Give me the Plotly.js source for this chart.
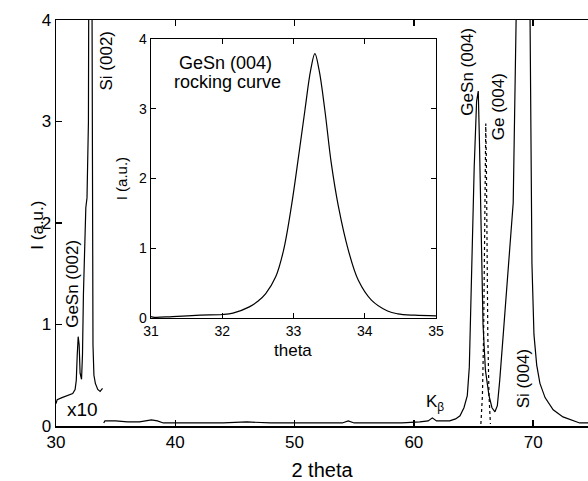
<!DOCTYPE html>
<html>
<head>
<meta charset="utf-8">
<script src="https://cdn.plot.ly/plotly-3.0.1.min.js"></script>
<style>html,body{margin:0;padding:0;background:#fff;}#chart{width:588px;height:481px;}</style>
</head>
<body>
<div id="chart"></div>
<script>
// Low-angle scan (shown x10)
var lowX = [30.0, 30.1, 30.5, 31.0, 31.4, 31.6, 31.7, 31.78, 31.86, 31.94, 32.02, 32.14, 32.22, 32.3, 32.42, 32.5, 32.6, 32.66, 32.72, 32.76, 32.86, 32.96, 33.0, 33.04, 33.1, 33.18, 33.3, 33.5, 33.7, 33.9];
var lowY = [0.22, 0.26, 0.28, 0.30, 0.32, 0.36, 0.45, 0.70, 0.88, 0.80, 0.52, 0.46, 0.70, 1.30, 1.93, 2.15, 2.25, 2.5, 3.0, 5, 8, 8, 5, 2.5, 0.8, 0.5, 0.42, 0.36, 0.34, 0.37];
// Main scan
var mainX = [34.0, 34.1, 35, 36, 37, 37.5, 38, 38.5, 39, 40, 42, 44, 46, 48, 50, 52, 54, 54.5, 55, 57, 59, 60.5, 61.2, 61.55, 61.9, 62.3, 63, 63.5, 63.87, 64.2, 64.48, 64.65, 64.84, 65.06, 65.26, 65.4, 65.5, 65.65, 65.8, 66.0, 66.3, 66.55, 66.8, 67.0, 67.2, 67.5, 67.9, 68.33, 68.6, 68.9, 69.4, 69.73, 69.9, 70.07, 70.3, 70.57, 71.0, 71.68, 72.5, 73.9, 74.6];
var mainY = [0.03, 0.05, 0.05, 0.04, 0.04, 0.05, 0.06, 0.05, 0.03, 0.03, 0.03, 0.03, 0.04, 0.03, 0.03, 0.03, 0.03, 0.05, 0.03, 0.03, 0.03, 0.04, 0.05, 0.08, 0.05, 0.05, 0.05, 0.07, 0.10, 0.18, 0.30, 0.58, 1.57, 2.55, 3.2, 3.30, 2.8, 1.8, 1.0, 0.55, 0.30, 0.18, 0.14, 0.20, 0.45, 0.91, 1.5, 2.2, 4.2, 6, 6, 4.2, 1.6, 0.9, 0.6, 0.42, 0.28, 0.16, 0.09, 0.03, 0.03];
// Ge (004) reference (dotted)
var geX = [65.62, 65.75, 65.85, 65.92, 65.98, 66.03, 66.08, 66.12, 66.2, 66.3, 66.42];
var geY = [0.02, 0.3, 0.9, 1.7, 2.6, 2.98, 2.6, 1.7, 0.9, 0.3, 0.02];
// Inset: GeSn (004) rocking curve
var rcX = [31.0, 31.05, 31.3, 31.69, 32.0, 32.15, 32.38, 32.5, 32.61, 32.75, 32.86, 32.97, 33.07, 33.16, 33.24, 33.30, 33.36, 33.44, 33.53, 33.63, 33.77, 33.91, 34.09, 34.32, 34.46, 34.7, 35.0];
var rcY = [0.02, 0.01, 0.02, 0.04, 0.05, 0.07, 0.16, 0.24, 0.35, 0.59, 0.97, 1.60, 2.31, 2.98, 3.55, 3.79, 3.55, 2.98, 2.22, 1.60, 0.97, 0.54, 0.26, 0.10, 0.06, 0.04, 0.03];

var F = 'Liberation Sans, Arial, sans-serif';
var black = '#000000';

var traces = [
  {x: lowX, y: lowY, xaxis: 'x', yaxis: 'y', mode: 'lines', line: {color: black, width: 1.2}},
  {x: mainX, y: mainY, xaxis: 'x', yaxis: 'y', mode: 'lines', line: {color: black, width: 1.2}},
  {x: geX, y: geY, xaxis: 'x', yaxis: 'y', mode: 'lines', line: {color: black, width: 1.2, dash: 'dot'}},
  {x: rcX, y: rcY, xaxis: 'x2', yaxis: 'y2', mode: 'lines', line: {color: black, width: 1.2, shape: 'spline'}}
];

var layout = {
  width: 588, height: 481,
  margin: {l: 56, r: 0, t: 20, b: 55},
  showlegend: false,
  font: {family: F, color: black, size: 17},
  xaxis: {range: [30, 74.6], dtick: 10, showline: true, linecolor: black, linewidth: 1.5, mirror: 'ticks',
    ticks: 'inside', ticklen: 6, tickwidth: 1.5, tickcolor: black, showgrid: false, zeroline: false,
    title: {text: '2 theta'}},
  yaxis: {range: [0, 4], dtick: 1, showline: true, linecolor: black, linewidth: 1.5,
    ticks: 'inside', ticklen: 6, tickwidth: 1.5, tickcolor: black, showgrid: false, zeroline: false},
  xaxis2: {domain: [0.1786, 0.7143], anchor: 'y2', range: [31, 35], dtick: 1, showline: true, linecolor: black, linewidth: 1.3, mirror: 'ticks',
    ticks: 'inside', ticklen: 5, tickwidth: 1.3, tickcolor: black, showgrid: false, zeroline: false,
    tickfont: {size: 14, family: F, color: black}},
  yaxis2: {domain: [0.266, 0.953], anchor: 'x2', range: [0, 4], dtick: 1, showline: true, linecolor: black, linewidth: 1.3, mirror: 'ticks',
    ticks: 'inside', ticklen: 5, tickwidth: 1.3, tickcolor: black, showgrid: false, zeroline: false,
    tickfont: {size: 14, family: F, color: black},
    title: {text: 'I (a.u.)', font: {size: 15, family: F, color: black}, standoff: 8}},
  annotations: [
    {xref: 'paper', yref: 'paper', x: -0.058, y: 0.495, text: 'I (a.u.)', textangle: -90, showarrow: false, font: {size: 17}},
    {xref: 'paper', yref: 'paper', x: 0.445, y: 0.158, text: 'theta', showarrow: false, font: {size: 17}},
    {xref: 'x', yref: 'y', x: 31.42, y: 1.40, text: 'GeSn (002)', textangle: -90, showarrow: false, font: {size: 17}},
    {xref: 'x', yref: 'y', x: 34.27, y: 3.6, text: 'Si (002)', textangle: -90, showarrow: false, font: {size: 17}},
    {xref: 'x', yref: 'y', x: 32.18, y: 0.16, text: 'x10', showarrow: false, font: {size: 19}},
    {xref: 'x', yref: 'y', x: 64.53, y: 3.49, text: 'GeSn (004)', textangle: -90, showarrow: false, font: {size: 17}},
    {xref: 'x', yref: 'y', x: 67.05, y: 3.15, text: 'Ge (004)', textangle: -90, showarrow: false, font: {size: 17}},
    {xref: 'x', yref: 'y', x: 69.15, y: 0.47, text: 'Si (004)', textangle: -90, showarrow: false, font: {size: 17}},
    {xref: 'x', yref: 'y', x: 61.77, y: 0.23, text: 'K<sub>β</sub>', showarrow: false, font: {size: 17}},
    {xref: 'x2', yref: 'y2', x: 32.04, y: 3.66, text: 'GeSn (004)', showarrow: false, font: {size: 18}},
    {xref: 'x2', yref: 'y2', x: 32.07, y: 3.38, text: 'rocking curve', showarrow: false, font: {size: 18}}
  ]
};

Plotly.newPlot('chart', traces, layout, {staticPlot: true});
</script>
</body>
</html>
